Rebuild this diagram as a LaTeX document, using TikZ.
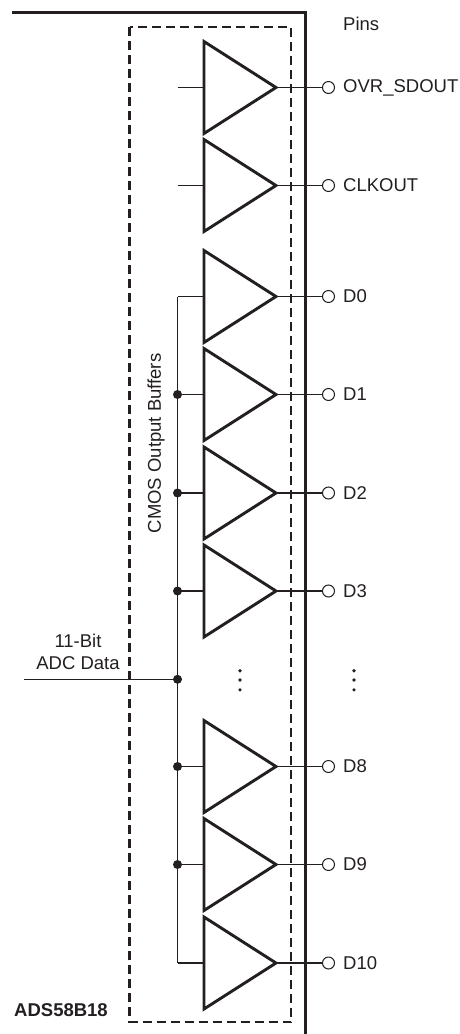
\documentclass[tikz,border=0pt]{standalone}
\usepackage{fontspec}
\setmainfont{Liberation Sans}
\definecolor{ink}{HTML}{231F20}
\tikzset{
  lab/.style={inner sep=0pt,text=ink,font=\fontsize{18.5}{22}\selectfont},
  pinlab/.style={lab,anchor=west},
  pinc/.style={circle,draw=ink,line width=1pt,fill=white,minimum size=12pt,inner sep=0pt},
  jdot/.style={circle,fill=ink,minimum size=9pt,inner sep=0pt},
  sdot/.style={circle,fill=ink,minimum size=3.6pt,inner sep=0pt},
  thin wire/.style={draw=ink,line width=1.3pt},
  thick wire/.style={draw=ink,line width=3pt,line join=miter},
  buf/.style={draw=ink,line width=2.9pt,line join=miter,fill=white},
}
\begin{document}
\begin{tikzpicture}[x=1pt,y=-1pt]
\useasboundingbox (0,0) rectangle (459,1034);
\fill[white] (0,0) rectangle (459,1034);
% device outline
\coordinate (outA) at (12,12);
\coordinate (outB) at (305,12);
\coordinate (outC) at (305,1034);
\draw[thick wire] (outA) -- (outB) -- (outC);
% dashed block
\draw[draw=ink,line width=2.4pt,dash pattern=on 9pt off 5pt] (129.5,27) rectangle (291,1022);
% buffers
\foreach \nm/\y/\txt in {ovr/87.5/OVR\_SDOUT,clk/185.5/CLKOUT,d0/296.5/D0,d1/394.5/D1,d2/493/D2,d3/591/D3,d8/766.5/D8,d9/864.5/D9,d10/963/D10}{
  \coordinate (in\nm) at (204.5,\y);
  \coordinate (out\nm) at (276,\y);
  \coordinate (w\nm) at (177.5,\y);
  \node[pinc] (pin\nm) at (328.5,\y) {};
  \node[pinlab] (lab\nm) at (343,\y) {\txt};
  \draw[thin wire] (out\nm) -- (pin\nm);
  \draw[thin wire] (w\nm) -- (in\nm);
  \draw[buf] (204,\y-46) -- (out\nm) -- (204,\y+46) -- cycle;
}
% bus
\draw[thin wire] (wd0) -- (wd10);
\coordinate (adcin) at (24,679.3);
\node[jdot] (jadc) at (177.5,679.3) {};
\draw[thin wire] (adcin) -- (jadc);
\foreach \nm in {d1,d2,d3,d8,d9}{ \node[jdot] (j\nm) at (w\nm) {}; }
% ellipsis dots
\foreach \i/\y in {1/670.7,2/680,3/689.8}{
  \node[sdot] (da\i) at (240,\y) {};
  \node[sdot] (db\i) at (354,\y) {};
}
% texts
\node[pinlab] (pins) at (343,24) {Pins};
\node[lab] (bit) at (78,640.5) {11-Bit};
\node[lab] (adc) at (78,663) {ADC Data};
\node[lab,rotate=90] (cmos) at (156,443.5) {CMOS Output Buffers};
\node[lab,anchor=west,font=\fontsize{18.5}{22}\selectfont\bfseries] (ads) at (14,1010) {ADS58B18};
\end{tikzpicture}
\end{document}
